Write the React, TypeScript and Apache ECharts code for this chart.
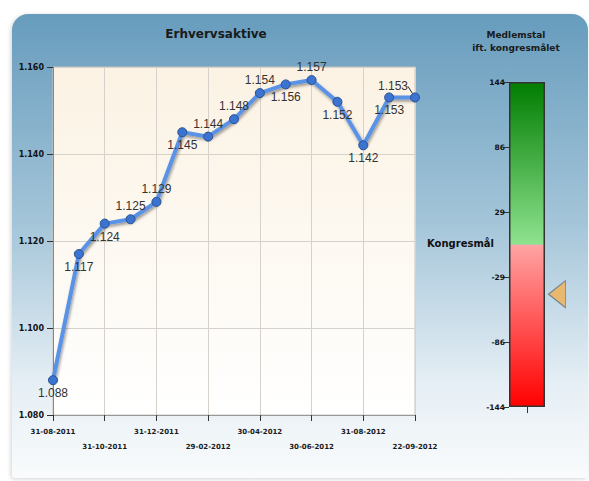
import React, { useEffect, useRef } from "react";
import * as echarts from "echarts";

const dates = [
  "31-08-2011", "30-09-2011", "31-10-2011", "30-11-2011", "31-12-2011",
  "31-01-2012", "29-02-2012", "31-03-2012", "30-04-2012", "31-05-2012",
  "30-06-2012", "31-07-2012", "31-08-2012", "15-09-2012", "22-09-2012",
];
const members = [
  1.088, 1.117, 1.124, 1.125, 1.129, 1.145, 1.144, 1.148, 1.154, 1.156,
  1.157, 1.152, 1.142, 1.153, 1.153,
];
const yMin = 1.08;
const yMax = 1.16;
const yStep = 0.02;

const gaugeMin = -144;
const gaugeMax = 144;
const gaugeTickCount = 6;
const gaugeCurrent = -44;

const mainTitle = "Erhvervsaktive";
const gaugeTitle = "Medlemstal\nift. kongresmålet";
const goalLabel = "Kongresmål";

// label placement per point (style)
const placement = [
  "bottom", "bottom", "bottom", "top", "top", "bottom", "top", "top", "top",
  "bottom", "top", "bottom", "bottom", "bottom", "top",
];

const BOLD = "'DejaVu Sans', Verdana, sans-serif";
const NARROW = "'Liberation Sans Narrow', 'Liberation Sans', Arial, sans-serif";

export default function App() {
  const ref = useRef<HTMLDivElement>(null);
  useEffect(() => {
    if (!ref.current) return;
    const chart = echarts.init(ref.current, undefined, { renderer: "svg" });
    const span = gaugeMax - gaugeMin;
    const gaugeInterval = span / (gaugeTickCount - 1);
    const seriesData = members.map((v, i) => {
      const item: any = {
        value: v,
        label: { position: placement[i] },
      };
      if (i === members.length - 1) {
        item.labelLine = { show: true, lineStyle: { color: "#222", width: 1 } };
      }
      return item;
    });
    const option: any = {
      animation: false,
      graphic: [
        {
          type: "rect",
          z: -100,
          shape: { x: 12, y: 14, width: 576, height: 464, r: [16, 16, 4, 4] },
          style: {
            fill: new echarts.graphic.LinearGradient(0, 0, 0, 1, [
              { offset: 0, color: "#679cbd" },
              { offset: 0.45, color: "#a4c5d9" },
              { offset: 0.8, color: "#e6eff5" },
              { offset: 1, color: "#f9fbfc" },
            ]),
            shadowColor: "rgba(0,0,0,0.18)",
            shadowBlur: 4,
            shadowOffsetX: -1,
            shadowOffsetY: 1,
          },
        },
        {
          type: "text",
          x: 216,
          y: 34,
          style: {
            text: mainTitle,
            font: `bold 12px ${BOLD}`,
            fill: "#1a1a1a",
            align: "center",
            verticalAlign: "middle",
          },
        },
        {
          type: "text",
          x: 516,
          y: 41,
          style: {
            text: gaugeTitle,
            font: `bold 9px ${BOLD}`,
            lineHeight: 13,
            fill: "#1a1a1a",
            align: "center",
            verticalAlign: "middle",
          },
        },
        {
          type: "text",
          x: 427,
          y: 243,
          style: {
            text: goalLabel,
            font: `bold 10px ${BOLD}`,
            fill: "#111",
            align: "left",
            verticalAlign: "middle",
          },
        },
      ],
      grid: [
        {
          left: 53,
          top: 67,
          width: 362,
          height: 348,
          show: true,
          backgroundColor: new echarts.graphic.LinearGradient(0, 0, 0, 1, [
            { offset: 0, color: "#fbf2e3" },
            { offset: 1, color: "#ffffff" },
          ]),
          borderColor: "#c8c4bc",
          borderWidth: 1,
        },
        { left: 509, top: 82, width: 36, height: 325 },
      ],
      xAxis: [
        {
          gridIndex: 0,
          type: "category",
          data: dates,
          boundaryGap: false,
          axisLine: { show: true, lineStyle: { color: "#999" } },
          axisTick: { show: true, interval: 1, length: 6, lineStyle: { color: "#333" } },
          splitLine: { show: true, interval: 1, lineStyle: { color: "#d6d2cb" } },
          axisLabel: {
            interval: 1,
            margin: 9,
            fontFamily: BOLD,
            fontWeight: "bold",
            fontSize: 7,
            color: "#1a1a1a",
            lineHeight: 15,
            formatter: (v: string, i: number) => (i % 4 === 2 ? "\n" + v : v),
          },
        },
        {
          gridIndex: 1,
          type: "category",
          data: [""],
          axisLine: { show: false },
          axisTick: { show: true, alignWithLabel: true, length: 6, lineStyle: { color: "#333" } },
          axisLabel: { show: false },
        },
      ],
      yAxis: [
        {
          gridIndex: 0,
          type: "value",
          min: yMin,
          max: yMax,
          interval: yStep,
          axisLine: { show: true, lineStyle: { color: "#888" } },
          axisTick: { show: true, length: 6, lineStyle: { color: "#333" } },
          splitLine: { show: true, lineStyle: { color: "#d6d2cb" } },
          axisLabel: {
            margin: 9,
            fontFamily: BOLD,
            fontWeight: "bold",
            fontSize: 8,
            color: "#111",
            formatter: (v: number) => v.toFixed(3),
          },
        },
        {
          gridIndex: 1,
          type: "value",
          min: 0,
          max: span,
          interval: gaugeInterval,
          axisLine: { show: false },
          axisTick: { show: true, length: 5, lineStyle: { color: "#333" } },
          splitLine: { show: false },
          axisLabel: {
            margin: 4,
            fontFamily: BOLD,
            fontWeight: "bold",
            fontSize: 7.5,
            color: "#111",
            formatter: (v: number) => String(Math.round(v + gaugeMin)),
          },
        },
      ],
      series: [
        {
          type: "line",
          xAxisIndex: 0,
          yAxisIndex: 0,
          data: seriesData,
          symbol: "circle",
          symbolSize: 9,
          lineStyle: {
            color: "#5a92e6",
            width: 4,
            shadowColor: "rgba(0,0,0,0.4)",
            shadowBlur: 3,
            shadowOffsetX: 1,
            shadowOffsetY: 2,
          },
          itemStyle: {
            color: "#3a74d0",
            borderColor: "#284f8e",
            borderWidth: 1,
          },
          label: {
            show: true,
            distance: 2,
            fontFamily: NARROW,
            fontSize: 12,
            color: "#333",
            formatter: (p: any) => p.value.toFixed(3),
          },
          labelLayout: (p: any) =>
            p.dataIndex === members.length - 1 ? { dx: -22, dy: 2 } : {},
          z: 5,
        },
        {
          type: "bar",
          xAxisIndex: 1,
          yAxisIndex: 1,
          stack: "g",
          barWidth: "100%",
          data: [-gaugeMin],
          itemStyle: {
            color: new echarts.graphic.LinearGradient(0, 0, 0, 1, [
              { offset: 0, color: "#ffa4a4" },
              { offset: 1, color: "#ff0000" },
            ]),
            borderWidth: 0,
          },
        },
        {
          type: "bar",
          xAxisIndex: 1,
          yAxisIndex: 1,
          stack: "g",
          barWidth: "100%",
          data: [gaugeMax],
          itemStyle: {
            color: new echarts.graphic.LinearGradient(0, 0, 0, 1, [
              { offset: 0, color: "#007d00" },
              { offset: 1, color: "#8fe38f" },
            ]),
            borderWidth: 0,
          },
        },
        {
          type: "bar",
          xAxisIndex: 1,
          yAxisIndex: 1,
          barWidth: "100%",
          barGap: "-100%",
          data: [span],
          itemStyle: {
            color: "transparent",
            borderColor: "#333",
            borderWidth: 1.5,
          },
          z: 3,
        },
        {
          type: "scatter",
          xAxisIndex: 1,
          yAxisIndex: 1,
          data: [[0, gaugeCurrent - gaugeMin]],
          symbol: "triangle",
          symbolRotate: 90,
          symbolSize: [27, 17],
          symbolOffset: [30, 0],
          itemStyle: { color: "#f2b052", borderColor: "#5a7290", borderWidth: 1 },
          z: 10,
        },
      ],
    };
    chart.setOption(option);
    return () => chart.dispose();
  }, []);
  return (
    <div
      ref={ref}
      style={{ position: "absolute", left: 0, top: 0, width: 589, height: 481 }}
    />
  );
}
